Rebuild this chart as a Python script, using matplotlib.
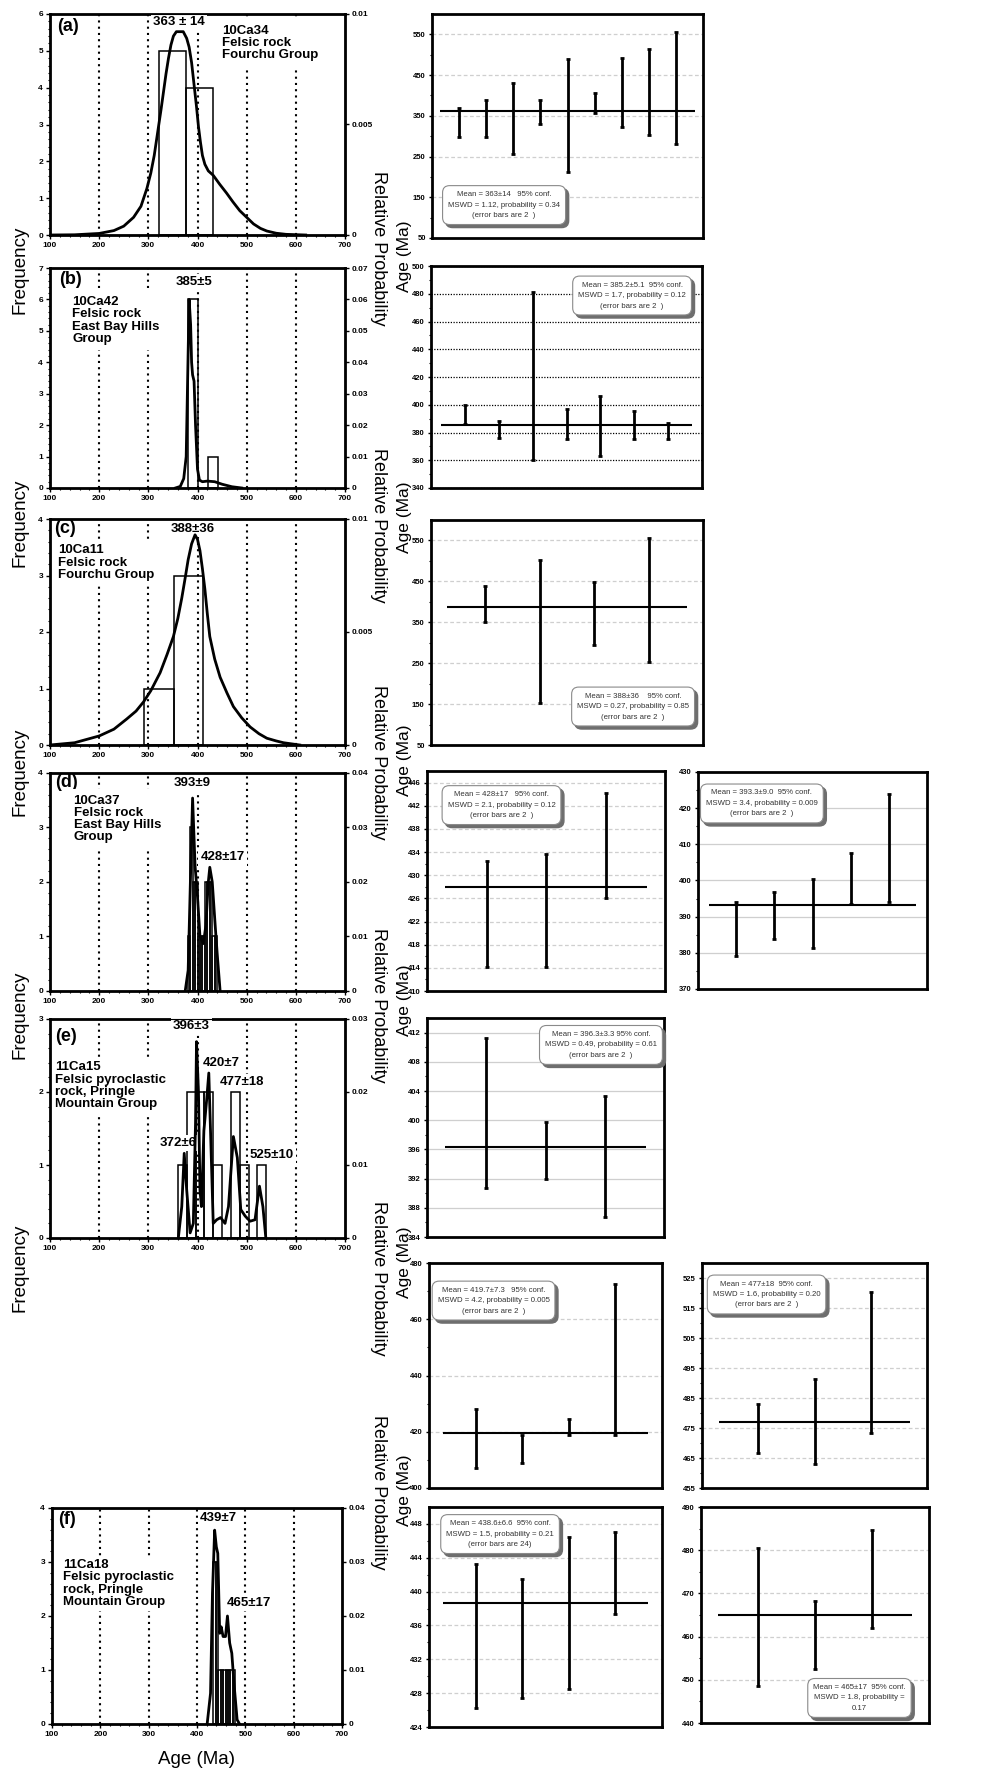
import matplotlib
matplotlib.use('Agg')
import matplotlib.pyplot as plt
import numpy as np
from matplotlib.transforms import offset_copy

plt.rcParams['font.family'] = ['Liberation Sans', 'DejaVu Sans']

W, H = 996, 1773

# ---------------- histogram / probability data (left column) ----------------
A_EDGES = [322, 377, 432]
A_FREQ = [5, 4]
A_AGE = [100, 150, 200, 230, 250, 270, 285, 297, 305, 312, 320, 326, 331, 336, 341, 346, 351, 357, 364, 371, 378,
         383, 388, 393, 398, 402, 406, 410, 415, 422, 432, 445, 459, 472, 486, 500, 514, 528, 541, 560, 580, 620]
A_PROB = [0, 0.00001, 0.00007, 0.0002, 0.0004, 0.0008, 0.0013, 0.0021, 0.0028, 0.0036, 0.0048, 0.0057, 0.0065,
          0.0073, 0.0080, 0.0086, 0.0090, 0.0092, 0.0092, 0.0092, 0.0089, 0.0085, 0.0078, 0.0068, 0.0058, 0.0049,
          0.0042, 0.0036, 0.0032, 0.0029, 0.0027, 0.0023, 0.0019, 0.0015, 0.0011, 0.0008, 0.0005, 0.0003,
          0.00018, 0.00008, 0.00003, 0]

B_EDGES = [381, 402, 422, 442]
B_FREQ = [6, 0, 1]
B_AGE = [355, 365, 372, 377, 380, 383, 386, 388, 390, 393, 396, 400, 404, 410, 420, 435, 450, 470, 490]
B_PROB = [0, 0.0005, 0.003, 0.01, 0.035, 0.06, 0.052, 0.04, 0.036, 0.034, 0.02, 0.006, 0.0025, 0.002, 0.0022,
          0.002, 0.0012, 0.0004, 0]

C_EDGES = [291, 352, 412]
C_FREQ = [1, 3]
C_AGE = [100, 150, 200, 230, 256, 275, 290, 305, 324, 338, 351, 360, 368, 375, 381, 388, 395, 400, 405, 410, 415,
         420, 425, 435, 446, 460, 473, 490, 507, 525, 541, 560, 575, 608]
C_PROB = [0, 0.0001, 0.0004, 0.0007, 0.00115, 0.0015, 0.0019, 0.0024, 0.0032, 0.0040, 0.0048, 0.0056, 0.0065,
          0.0074, 0.0082, 0.0089, 0.0093, 0.0091, 0.0086, 0.0078, 0.0069, 0.0058, 0.0048, 0.0038, 0.0030, 0.0023,
          0.0017, 0.0012, 0.0008, 0.0005, 0.0003, 0.00018, 0.0001, 0]

D_EDGES = [380, 385, 390, 395, 400, 405, 410, 415, 420, 425, 430, 435, 440]
D_FREQ = [1, 3, 2, 2, 1, 1, 1, 2, 2, 2, 1, 1]
D_AGE = [375, 381, 386, 390, 395, 400, 405, 412, 417, 422, 425, 430, 436, 440, 446]
D_PROB = [0, 0.0038, 0.0217, 0.0354, 0.023, 0.0173, 0.010, 0.0087, 0.012, 0.020, 0.0227, 0.020, 0.012, 0.0069, 0]

E_EDGES = [360, 378, 396, 414, 432, 450, 468, 486, 504, 522, 540]
E_FREQ = [1, 2, 2, 2, 1, 0, 2, 1, 0, 1]
E_AGE = [361, 368, 373, 378, 385, 391.5, 396, 398, 402, 405, 408, 413, 418.6, 423, 427, 432, 439, 447, 456, 463,
         473, 481, 488, 497, 507, 517, 526, 533, 539]
E_PROB = [0, 0.0043, 0.0116, 0.0066, 0.0007, 0.002, 0.0158, 0.0269, 0.020, 0.0066, 0.0043, 0.0147, 0.0189, 0.0226,
          0.0135, 0.002, 0.0025, 0.0028, 0.002, 0.0043, 0.0139, 0.011, 0.0039, 0.003, 0.0023, 0.0025, 0.0071,
          0.0043, 0]

F_EDGES = [434, 439, 444, 449, 454, 459, 464, 469, 474, 479]
F_FREQ = [3, 3, 1, 1, 1, 1, 1, 1, 1]
F_AGE = [421, 428, 432, 436.5, 440, 443, 447, 450, 454, 459, 463, 467.6, 472, 477, 483, 488]
F_PROB = [0, 0.0057, 0.0242, 0.0359, 0.0328, 0.0316, 0.0168, 0.018, 0.0162, 0.0162, 0.020, 0.015, 0.0131, 0.007,
          0.0008, 0]

# ---------------- weighted mean data (right columns) ----------------
WA_LO = [297, 297, 256, 330, 211, 357, 323, 304, 281]
WA_HI = [368, 389, 431, 388, 489, 406, 493, 515, 555]
WA_MEAN = 363
WB_LO = [386, 376, 360, 375.5, 363, 375, 375]
WB_HI = [400, 388, 481.5, 397, 406, 395.6, 387]
WB_MEAN = 385.2
WC_LO = [350, 153, 295, 253]
WC_HI = [439, 502, 448, 556]
WC_MEAN = 388
WD1_LO = [414.1, 414.1, 426.0]
WD1_HI = [432.5, 433.6, 444.2]
WD1_MEAN = 428
WD2_LO = [379.1, 383.9, 381.4, 393.4, 394.1]
WD2_HI = [394.1, 396.7, 400.4, 407.6, 424.0]
WD2_MEAN = 393.3
WE1_LO = [390.7, 391.9, 386.8]
WE1_HI = [411.3, 399.8, 403.3]
WE1_MEAN = 396.3
WE2_LO = [407.0, 408.9, 418.7, 418.9]
WE2_HI = [428.0, 418.7, 424.5, 472.7]
WE2_MEAN = 419.7
WE3_LO = [466.8, 462.9, 473.4]
WE3_HI = [483.1, 491.4, 520.3]
WE3_MEAN = 477
WF1_LO = [426.2, 427.4, 428.5, 437.3]
WF1_HI = [443.3, 441.5, 446.4, 447.1]
WF1_MEAN = 438.6
WF2_LO = [448.5, 452.6, 462.1]
WF2_HI = [480.5, 468.3, 484.7]
WF2_MEAN = 465

fig = plt.figure(figsize=(W / 100, H / 100), dpi=100)


def px(x0, y0, x1, y1):
    return [x0 / W, 1 - y1 / H, (x1 - x0) / W, (y1 - y0) / H]


def hist_panel(rect, edges, freq, age, prob, fmax, pmax, pticks, plabels):
    ax = fig.add_axes(px(*rect))
    ax.set_xlim(100, 700)
    ax.set_ylim(0, fmax)
    for xv in [200, 300, 400, 500, 600]:
        ax.axvline(xv, color='black', ls=(0, (1, 2)), lw=1.5, zorder=0)
    ax.bar(edges[:-1], freq, width=np.diff(edges), align='edge', fill=False,
           edgecolor='black', lw=1.1, zorder=2)
    ax.set_xticks(range(100, 701, 100))
    ax.set_xticklabels([str(v) for v in range(100, 701, 100)], fontsize=6, fontweight='bold')
    ax.set_xticks(range(100, 701, 20), minor=True)
    ax.set_yticks(range(0, fmax + 1))
    ax.set_yticklabels([str(v) for v in range(0, fmax + 1)], fontsize=6, fontweight='bold')
    ax.set_yticks(np.arange(0, fmax, 0.2), minor=True)
    ax.tick_params(which='major', length=3, width=1, pad=2)
    ax.tick_params(which='minor', length=1.5, width=0.8)
    for s in ax.spines.values():
        s.set_linewidth(2)
    ax2 = ax.twinx()
    ax2.set_ylim(0, pmax)
    ax2.plot(age, prob, color='black', lw=2, zorder=3)
    ax2.set_yticks(pticks)
    ax2.set_yticklabels(plabels, fontsize=6, fontweight='bold')
    ax2.tick_params(length=3, width=1, pad=2)
    return ax, ax2


def label(ax, x, y, s, size=9.5, ha='left', va='top', pad=1.5):
    kw = {}
    if pad:
        kw['bbox'] = dict(fc='white', ec='none', pad=pad)
    ax.text(x, y, s, fontsize=size, fontweight='bold', ha=ha, va=va,
            linespacing=1.02, zorder=6, **kw)


def wm_panel(rect, lo, hi, mean, ylim, major, minor, grid, box_xy, box_text):
    ax = fig.add_axes(px(*rect))
    n = len(lo)
    idx = np.arange(1, n + 1)
    ax.set_xlim(0, n + 1)
    ax.set_ylim(*ylim)
    ax.set_xticks([])
    ax.set_yticks(major)
    ax.set_yticklabels([('%g' % v) for v in major], fontsize=5.5, fontweight='bold')
    ax.set_yticks(minor, minor=True)
    ax.tick_params(which='major', length=2.5, width=1, pad=2)
    ax.tick_params(which='minor', length=1.5, width=0.8)
    if grid == 'dot':
        ax.grid(axis='y', which='major', color='black', ls=(0, (1, 1.2)), lw=0.9)
    elif grid == 'solid':
        ax.grid(axis='y', which='major', color='#cfcfcf', ls='-', lw=0.9)
    else:
        ax.grid(axis='y', which='major', color='#cfcfcf', ls=(0, (3, 2)), lw=0.9)
    ax.set_axisbelow(True)
    ax.hlines(mean, 0.3, n + 0.7, color='black', lw=1.5, zorder=3)
    ax.vlines(idx, lo, hi, color='black', lw=2, zorder=4)
    ax.plot(idx, lo, ls='none', marker='_', ms=3, mew=2, color='black', zorder=4)
    ax.plot(idx, hi, ls='none', marker='_', ms=3, mew=2, color='black', zorder=4)
    for s in ax.spines.values():
        s.set_linewidth(2)
    kw = dict(ha='center', va='center', fontsize=5.6, linespacing=1.7)
    tr = offset_copy(ax.transAxes, fig=fig, x=2.2, y=-2.2, units='points')
    ax.text(box_xy[0], box_xy[1], box_text, transform=tr, color='#6e6e6e', zorder=7,
            bbox=dict(boxstyle='round,pad=0.7,rounding_size=0.9', fc='#6e6e6e', ec='#6e6e6e'), **kw)
    ax.text(box_xy[0], box_xy[1], box_text, transform=ax.transAxes, color='#333333', zorder=8,
            bbox=dict(boxstyle='round,pad=0.7,rounding_size=0.9', fc='white', ec='#8a8a8a', lw=0.8), **kw)
    return ax


# ---------------- left column ----------------
ax, ax2 = hist_panel((50, 14, 345, 235), A_EDGES, A_FREQ, A_AGE, A_PROB, 6, 0.01,
                     [0, 0.005, 0.01], ['0', '0.005', '0.01'])
label(ax, 115, 5.9, '(a)', size=13, pad=0)
label(ax, 362, 5.95, '363 \u00b1 14', ha='center')
label(ax, 450, 5.7, '10Ca34\nFelsic rock\nFourchu Group', pad=4)

ax, ax2 = hist_panel((50, 268, 345, 488), B_EDGES, B_FREQ, B_AGE, B_PROB, 7, 0.07,
                     [0, 0.01, 0.02, 0.03, 0.04, 0.05, 0.06, 0.07],
                     ['0', '0.01', '0.02', '0.03', '0.04', '0.05', '0.06', '0.07'])
label(ax, 118, 6.9, '(b)', size=13, pad=0)
label(ax, 393, 6.75, '385\u00b15', ha='center')
label(ax, 145, 6.1, '10Ca42\nFelsic rock\nEast Bay Hills\nGroup', pad=4)

ax, ax2 = hist_panel((50, 519, 345, 745), C_EDGES, C_FREQ, C_AGE, C_PROB, 4, 0.01,
                     [0, 0.005, 0.01], ['0', '0.005', '0.01'])
label(ax, 108, 3.98, '(c)', size=13, pad=0)
label(ax, 391, 3.93, '388\u00b136', ha='center')
label(ax, 117, 3.55, '10Ca11\nFelsic rock\nFourchu Group', pad=2.5)

ax, ax2 = hist_panel((50, 773, 345, 991), D_EDGES, D_FREQ, D_AGE, D_PROB, 4, 0.04,
                     [0, 0.01, 0.02, 0.03, 0.04], ['0', '0.01', '0.02', '0.03', '0.04'])
label(ax, 111, 3.98, '(d)', size=13, pad=0)
label(ax, 390, 3.92, '393\u00b19', ha='center')
label(ax, 451, 2.56, '428\u00b117', ha='center')
label(ax, 148, 3.6, '10Ca37\nFelsic rock\nEast Bay Hills\nGroup', pad=4)

ax, ax2 = hist_panel((50, 1019, 345, 1238), E_EDGES, E_FREQ, E_AGE, E_PROB, 3, 0.03,
                     [0, 0.01, 0.02, 0.03], ['0', '0.01', '0.02', '0.03'])
label(ax, 111, 2.88, '(e)', size=13, pad=0)
label(ax, 388, 2.99, '396\u00b13', ha='center')
label(ax, 449, 2.48, '420\u00b17', ha='center')
label(ax, 490, 2.22, '477\u00b118', ha='center')
label(ax, 360, 1.38, '372\u00b16', ha='center')
label(ax, 551, 1.22, '525\u00b110', ha='center')
label(ax, 111, 2.42, '11Ca15\nFelsic pyroclastic\nrock, Pringle\nMountain Group', pad=2.5)

ax, ax2 = hist_panel((52, 1508, 342, 1724), F_EDGES, F_FREQ, F_AGE, F_PROB, 4, 0.04,
                     [0, 0.01, 0.02, 0.03, 0.04], ['0', '0.01', '0.02', '0.03', '0.04'])
label(ax, 113, 3.95, '(f)', size=13, pad=0)
label(ax, 445, 3.92, '439\u00b17', ha='center')
label(ax, 507, 2.35, '465\u00b117', ha='center')
label(ax, 122, 3.05, '11Ca18\nFelsic pyroclastic\nrock, Pringle\nMountain Group', pad=2.5)

# ---------------- weighted mean panels ----------------
BOX_TAIL = '(error bars are 2  )'
wm_panel((432, 14, 703, 238), WA_LO, WA_HI, WA_MEAN, (50, 600), np.arange(50, 551, 100),
         np.arange(50, 600, 50), 'dash', (0.266, 0.147),
         'Mean = 363\u00b114   95% conf.\nMSWD = 1.12, probability = 0.34\n' + BOX_TAIL)
wm_panel((431, 266, 702, 488), WB_LO, WB_HI, WB_MEAN, (340, 500), np.arange(340, 501, 20),
         np.arange(340, 500, 10), 'dot', (0.742, 0.867),
         'Mean = 385.2\u00b15.1  95% conf.\nMSWD = 1.7, probability = 0.12\n' + BOX_TAIL)
wm_panel((431, 520, 703, 745), WC_LO, WC_HI, WC_MEAN, (50, 600), np.arange(50, 551, 100),
         np.arange(50, 600, 50), 'dash', (0.743, 0.171),
         'Mean = 388\u00b136    95% conf.\nMSWD = 0.27, probability = 0.85\n' + BOX_TAIL)
wm_panel((427, 771, 665, 991), WD1_LO, WD1_HI, WD1_MEAN, (410, 448), np.arange(410, 447, 4),
         np.arange(410, 448, 2), 'dash', (0.313, 0.845),
         'Mean = 428\u00b117   95% conf.\nMSWD = 2.1, probability = 0.12\n' + BOX_TAIL)
wm_panel((698, 772, 927, 989), WD2_LO, WD2_HI, WD2_MEAN, (370, 430), np.arange(370, 431, 10),
         np.arange(370, 430, 5), 'solid', (0.279, 0.855),
         'Mean = 393.3\u00b19.0  95% conf.\nMSWD = 3.4, probability = 0.009\n' + BOX_TAIL)
wm_panel((427, 1018, 664, 1237), WE1_LO, WE1_HI, WE1_MEAN, (384, 414), np.arange(384, 413, 4),
         np.arange(384, 414, 2), 'solid', (0.734, 0.877),
         'Mean = 396.3\u00b13.3 95% conf.\nMSWD = 0.49, probability = 0.61\n' + BOX_TAIL)
wm_panel((429, 1263, 662, 1488), WE2_LO, WE2_HI, WE2_MEAN, (400, 480), np.arange(400, 481, 20),
         np.arange(400, 480, 10), 'dash', (0.277, 0.833),
         'Mean = 419.7\u00b17.3   95% conf.\nMSWD = 4.2, probability = 0.005\n' + BOX_TAIL)
wm_panel((702, 1263, 927, 1488), WE3_LO, WE3_HI, WE3_MEAN, (455, 530), np.arange(455, 526, 10),
         np.arange(455, 530, 5), 'dash', (0.287, 0.86),
         'Mean = 477\u00b118  95% conf.\nMSWD = 1.6, probability = 0.20\n' + BOX_TAIL)
wm_panel((429, 1507, 662, 1727), WF1_LO, WF1_HI, WF1_MEAN, (424, 450), np.arange(424, 449, 4),
         np.arange(424, 450, 2), 'dash', (0.305, 0.877),
         'Mean = 438.6\u00b16.6  95% conf.\nMSWD = 1.5, probability = 0.21\n(error bars are 24)')
wm_panel((701, 1507, 929, 1723), WF2_LO, WF2_HI, WF2_MEAN, (440, 490), np.arange(440, 491, 10),
         np.arange(440, 490, 5), 'dash', (0.695, 0.116),
         'Mean = 465\u00b117  95% conf.\nMSWD = 1.8, probability =\n0.17')

# ---------------- scattered axis titles ----------------
for yc in [270, 523, 772, 1015, 1268]:
    fig.text(20 / W, 1 - yc / H, 'Frequency', rotation=90, ha='center', va='center', fontsize=13.5)
for yc in [248, 525, 762, 1005, 1278, 1492]:
    fig.text(378 / W, 1 - yc / H, 'Relative Probability', rotation=270, ha='center', va='center', fontsize=13)
for yc in [256, 517, 760, 1000, 1262, 1490]:
    fig.text(404 / W, 1 - yc / H, 'Age (Ma)', rotation=90, ha='center', va='center', fontsize=12.5)
fig.text(197 / W, 1 - 1760 / H, 'Age (Ma)', ha='center', va='center', fontsize=13.5)

fig.savefig('out.png', dpi=100)
